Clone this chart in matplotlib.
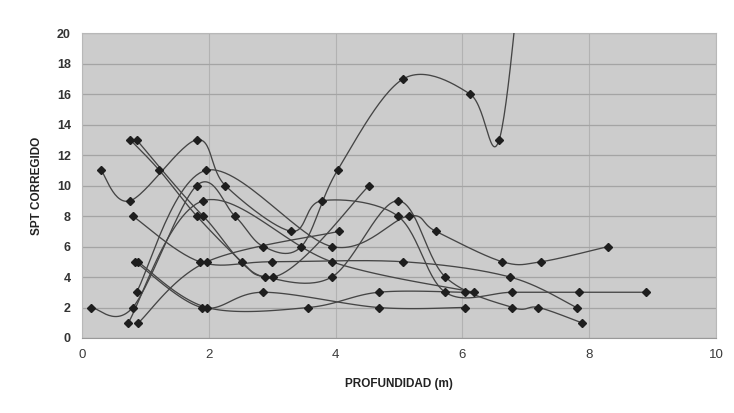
import numpy as np
import matplotlib
matplotlib.use("Agg")
import matplotlib.pyplot as plt

plt.rcParams['font.family'] = ['Liberation Sans', 'DejaVu Sans']

# depth (m) and corrected SPT per borehole
s1_x = [0.15, 0.80, 1.81, 2.41, 2.86, 3.46, 4.03, 5.07, 6.12, 6.58, 6.98]
s1_y = [2, 2, 10, 8, 6, 6, 11, 17, 16, 13, 27]
s2_x = [0.30, 0.76, 1.81, 2.26, 3.30, 3.78, 4.98, 5.73, 6.79, 7.84, 8.90]
s2_y = [11, 9, 13, 10, 7, 9, 8, 3, 3, 3, 3]
s3_x = [0.76, 1.22, 1.81, 2.52, 2.89, 3.94, 4.98, 5.73, 6.79, 7.20, 7.88]
s3_y = [13, 11, 8, 5, 4, 4, 9, 4, 2, 2, 1]
s4_x = [0.86, 1.91, 3.02, 4.53]
s4_y = [13, 8, 4, 10]
s5_x = [0.80, 1.86, 3.00, 5.07, 6.75, 7.80]
s5_y = [8, 5, 5, 5, 4, 2]
s6_x = [0.84, 1.89, 2.86, 4.68, 6.04]
s6_y = [5, 2, 3, 2, 2]
s7_x = [0.88, 1.97, 3.57, 4.68, 6.04]
s7_y = [5, 2, 2, 3, 3]
s8_x = [0.86, 1.96, 3.94, 5.15, 5.58, 6.63, 7.24, 8.30]
s8_y = [3, 11, 6, 8, 7, 5, 5, 6]
s9_x = [0.73, 1.91, 3.94, 6.18]
s9_y = [1, 9, 5, 3]
s10_x = [0.89, 1.97, 4.06]
s10_y = [1, 5, 7]

series = [(s1_x, s1_y), (s2_x, s2_y), (s3_x, s3_y), (s4_x, s4_y), (s5_x, s5_y),
          (s6_x, s6_y), (s7_x, s7_y), (s8_x, s8_y), (s9_x, s9_y), (s10_x, s10_y)]

x_ticks = [0, 2, 4, 6, 8, 10]
y_ticks = [0, 2, 4, 6, 8, 10, 12, 14, 16, 18, 20]


def smooth(xs, ys, n=30):
    P = np.column_stack([xs, ys]).astype(float)
    out = [P[0]]
    m = len(P)
    for i in range(m - 1):
        p0 = P[i - 1] if i > 0 else P[i]
        p1 = P[i]
        p2 = P[i + 1]
        p3 = P[i + 2] if i + 2 < m else P[i + 1]
        c1 = p1 + (p2 - p0) / 6.0
        c2 = p2 - (p3 - p1) / 6.0
        t = np.linspace(0, 1, n)[1:, None]
        seg = ((1 - t) ** 3) * p1 + 3 * ((1 - t) ** 2) * t * c1 + 3 * (1 - t) * t ** 2 * c2 + t ** 3 * p2
        out.extend(seg)
    out = np.array(out)
    return out[:, 0], out[:, 1]


fig = plt.figure(figsize=(7.34, 4.13), dpi=100)
ax = fig.add_axes([0.1117, 0.1816, 0.8638, 0.7384])
ax.set_facecolor('#cccccc')

for xs, ys in series:
    sx, sy = smooth(xs, ys)
    ax.plot(sx, sy, color='#454545', lw=0.95, zorder=3)
    ax.plot(xs, ys, linestyle='none', marker='D', markersize=4.5,
            color='#1e1e1e', zorder=4)

ax.set_xlim(0, 10)
ax.set_ylim(0, 20)
ax.set_xticks(x_ticks)
ax.set_yticks(y_ticks)
ax.set_xticklabels([str(v) for v in x_ticks], fontsize=9.5, color='#3a3a3a')
ax.set_yticklabels([str(v) for v in y_ticks], fontsize=9, color='#333333', fontweight='bold')
ax.tick_params(length=0, pad=8)
ax.grid(axis='y', color='#a4a4a4', lw=0.9)
ax.grid(axis='x', color='#b2b2b2', lw=0.8)
ax.set_axisbelow(True)
for side in ['top', 'right', 'left']:
    ax.spines[side].set_color('#b8b8b8')
    ax.spines[side].set_linewidth(0.8)
ax.spines['bottom'].set_color('#999999')

ax.set_xlabel('PROFUNDIDAD (m)', fontsize=8.5, fontweight='bold', color='#222222', labelpad=12)
ax.set_ylabel('SPT CORREGIDO', fontsize=8.5, fontweight='bold', color='#222222', labelpad=10)

fig.savefig('out.png', dpi=100)
